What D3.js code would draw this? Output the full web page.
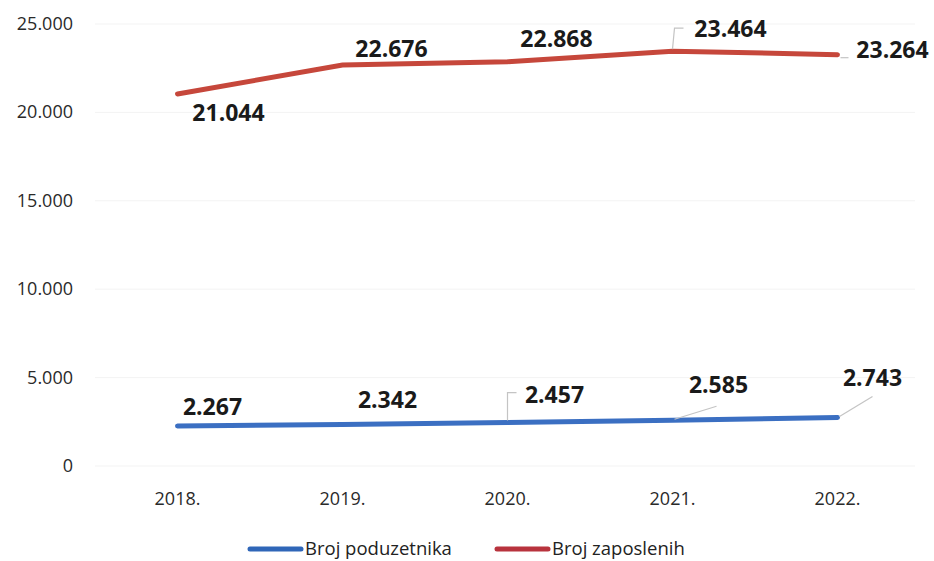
<!doctype html>
<html>
<head>
<meta charset="utf-8">
<title>Broj poduzetnika i zaposlenih</title>
<script src="https://cdn.jsdelivr.net/npm/d3@7"></script>
<style>
  body { margin: 0; background: #fff; }
  text { font-family: "Open Sans", "Noto Sans", sans-serif; }
</style>
</head>
<body>
<svg id="chart" width="934" height="561"></svg>
<script>
// data
var years = ["2018.", "2019.", "2020.", "2021.", "2022."];
var poduzetnici = [2267, 2342, 2457, 2585, 2743];
var zaposleni = [21044, 22676, 22868, 23464, 23264];
var yTicks = [0, 5000, 10000, 15000, 20000, 25000];

// label placement relative to its point, plus optional leader line
var redLabelPos = [
  {dx: 51, dy: 27},
  {dx: 49, dy: -8},
  {dx: 49, dy: -15},
  {dx: 58, dy: -14, leader: [[0, -2], [2, -23], [11, -23]]},
  {dx: 55, dy: 3, leader: [[3, 3], [11, 3]]}
];
var blueLabelPos = [
  {dx: 35, dy: -11},
  {dx: 45, dy: -17},
  {dx: 47, dy: -20, leader: [[0, -2], [0, -30], [9, -30]]},
  {dx: 46, dy: -27, leader: [[2, -1], [44, -14]]},
  {dx: 35, dy: -32, leader: [[2, -1], [35, -21]]}
];

var svg = d3.select("#chart");
var fmt = function(v) { return d3.format(",")(v).replace(/,/g, "."); };

var x = d3.scaleBand().domain(years).range([95, 920]);
var y = d3.scaleLinear().domain([0, 25000]).range([466, 24]);

// gridlines (very faint)
svg.append("g").selectAll("line").data(yTicks).enter().append("line")
  .attr("x1", 95).attr("x2", 915)
  .attr("y1", function(d) { return y(d); }).attr("y2", function(d) { return y(d); })
  .attr("stroke", "#f3f3f3").attr("stroke-width", 1);

// y axis labels
svg.append("g").selectAll("text").data(yTicks).enter().append("text")
  .attr("x", 73)
  .attr("y", function(d) { return y(d) + 6; })
  .attr("text-anchor", "end")
  .attr("font-size", 18).attr("fill", "#2a2a2a")
  .text(function(d) { return fmt(d); });

// x axis labels
svg.append("g").selectAll("text").data(years).enter().append("text")
  .attr("x", function(d) { return x(d) + x.bandwidth() / 2; })
  .attr("y", 505)
  .attr("text-anchor", "middle")
  .attr("font-size", 18).attr("fill", "#2a2a2a")
  .text(function(d) { return d; });

var line = d3.line()
  .x(function(d, i) { return x(years[i]) + x.bandwidth() / 2; })
  .y(function(d) { return y(d); });

function drawSeries(values, color, pos) {
  svg.append("path").datum(values)
    .attr("d", line)
    .attr("fill", "none")
    .attr("stroke", color)
    .attr("stroke-width", 5)
    .attr("stroke-linecap", "round");

  var g = svg.append("g");
  values.forEach(function(v, i) {
    var px = x(years[i]) + x.bandwidth() / 2, py = y(v);
    if (pos[i].leader) {
      g.append("polyline")
        .attr("points", pos[i].leader.map(function(p) { return [px + p[0], py + p[1]]; }).join(" "))
        .attr("fill", "none").attr("stroke", "#c4c4c4").attr("stroke-width", 1.2);
    }
    g.append("text")
      .attr("x", px + pos[i].dx).attr("y", py + pos[i].dy)
      .attr("text-anchor", "middle")
      .attr("font-size", 23).attr("font-weight", "bold").attr("fill", "#1a1a1a")
      .text(fmt(v));
  });
}

drawSeries(zaposleni, "#c6473b", redLabelPos);
drawSeries(poduzetnici, "#3b6fc2", blueLabelPos);

// legend
var legend = [["Broj poduzetnika", "#2f66b8", 250], ["Broj zaposlenih", "#b8333d", 497]];
legend.forEach(function(l) {
  svg.append("line")
    .attr("x1", l[2]).attr("x2", l[2] + 51)
    .attr("y1", 549).attr("y2", 549)
    .attr("stroke", l[1]).attr("stroke-width", 5).attr("stroke-linecap", "round");
  svg.append("text")
    .attr("x", l[2] + 55).attr("y", 555)
    .attr("font-size", 18.5).attr("fill", "#222")
    .text(l[0]);
});
</script>
</body>
</html>
